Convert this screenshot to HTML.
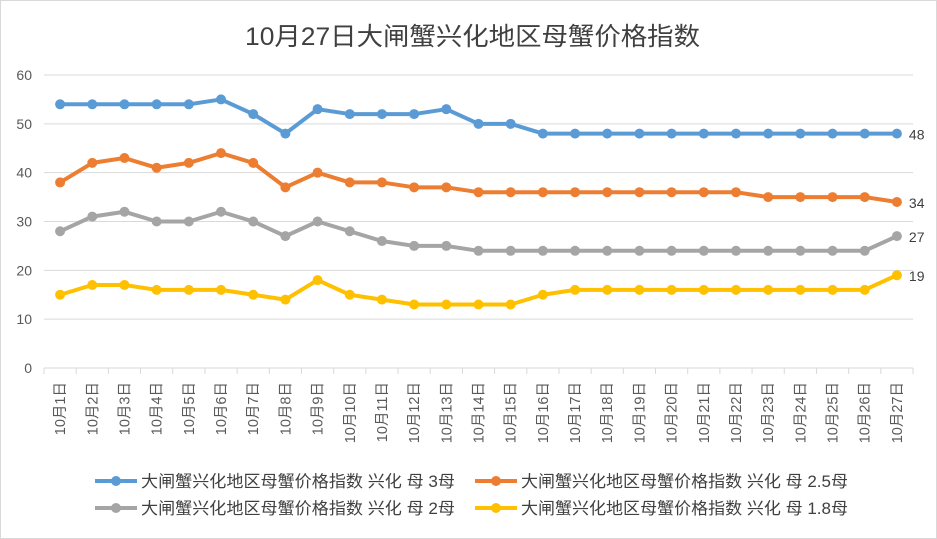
<!DOCTYPE html>
<html><head><meta charset="utf-8"><style>
body{margin:0;background:#fff;}
svg{display:block;font-family:"Liberation Sans","Noto Sans CJK SC",sans-serif;}
</style></head><body>
<svg id="c" width="937" height="539" viewBox="0 0 937 539">
<rect x="0.5" y="0.5" width="936" height="538" fill="#fff" stroke="#d9d9d9"/>
<text x="245" y="45" font-size="25" fill="#404040" textLength="455" lengthAdjust="spacingAndGlyphs">10月27日大闸蟹兴化地区母蟹价格指数</text>
<g id="grid"></g><g id="xaxis"></g><g id="series"></g><g id="legend"></g>
</svg>
<script>
const categories=["10月1日","10月2日","10月3日","10月4日","10月5日","10月6日","10月7日","10月8日","10月9日","10月10日","10月11日","10月12日","10月13日","10月14日","10月15日","10月16日","10月17日","10月18日","10月19日","10月20日","10月21日","10月22日","10月23日","10月24日","10月25日","10月26日","10月27日"];
const s3=[54,54,54,54,54,55,52,48,53,52,52,52,53,50,50,48,48,48,48,48,48,48,48,48,48,48,48];
const s25=[38,42,43,41,42,44,42,37,40,38,38,37,37,36,36,36,36,36,36,36,36,36,35,35,35,35,34];
const s2=[28,31,32,30,30,32,30,27,30,28,26,25,25,24,24,24,24,24,24,24,24,24,24,24,24,24,27];
const s18=[15,17,17,16,16,16,15,14,18,15,14,13,13,13,13,15,16,16,16,16,16,16,16,16,16,16,19];
const yTicks=[0,10,20,30,40,50,60];
const seriesNames=["大闸蟹兴化地区母蟹价格指数 兴化 母 3母","大闸蟹兴化地区母蟹价格指数 兴化 母 2.5母","大闸蟹兴化地区母蟹价格指数 兴化 母 2母","大闸蟹兴化地区母蟹价格指数 兴化 母 1.8母"];
const NS="http://www.w3.org/2000/svg";
const L=44,R=913,T=75,B=368;
const step=(R-L)/categories.length;
const x=i=>L+step*(i+0.5);
const y=v=>B-(v/60)*(B-T);
function mk(tag,attrs,parent){const e=document.createElementNS(NS,tag);for(const k in attrs)e.setAttribute(k,attrs[k]);parent.appendChild(e);return e;}
const grid=document.getElementById('grid');
yTicks.forEach(t=>{
 const l=mk('line',{x1:L,x2:R,y1:y(t),y2:y(t),stroke:'#d9d9d9','stroke-width':1},grid);
 
 
 const tx=mk('text',{x:32,y:y(t)+5,'text-anchor':'end','font-size':14,fill:'#595959'},grid);
 tx.textContent=t;
 
 
});
const xa=document.getElementById('xaxis');
for(let i=0;i<=categories.length;i++){
 const tk=mk('line',{x1:L+step*i,x2:L+step*i,y1:B,y2:B+6,stroke:'#d9d9d9'},xa);
 
 
}
categories.forEach((c,i)=>{
 const t=mk('text',{transform:`translate(${x(i)+5},${B+14}) rotate(-90)`,'text-anchor':'end','font-size':14.5,fill:'#595959'},xa);
 t.textContent=c;
 
 
});
const colors=['#5b9bd5','#ed7d31','#a5a5a5','#ffc000'];
const data=[s3,s25,s2,s18];
const sg=document.getElementById('series');
data.forEach((d,k)=>{
 const p=mk('polyline',{points:d.map((v,i)=>x(i)+','+y(v)).join(' '),fill:'none',stroke:colors[k],'stroke-width':4,'stroke-linejoin':'round'},sg);
 
 
 d.forEach((v,i)=>{
  const c=mk('circle',{cx:x(i),cy:y(v),r:5,fill:colors[k]},sg);
  
  
 });
 const lbl=mk('text',{x:x(d.length-1)+12,y:y(d[d.length-1])+6,'font-size':14,fill:'#404040'},sg);
 lbl.textContent=d[d.length-1];
 
 
});
const lg=document.getElementById('legend');
const pos=[[95,481],[475,481],[95,508],[475,508]];
const lens=[314,327,314,327];
seriesNames.forEach((n,k)=>{
 const [px,py]=pos[k];
 const ln=mk('line',{x1:px,x2:px+42,y1:py,y2:py,stroke:colors[k],'stroke-width':4},lg);
 
 
 const c=mk('circle',{cx:px+21,cy:py,r:5,fill:colors[k]},lg);
 
 
 const t=mk('text',{x:px+46,y:py+6,'font-size':16.5,fill:'#404040',textLength:lens[k],lengthAdjust:'spacingAndGlyphs'},lg);
 t.textContent=n;
 
 
});
</script>
</body></html>
